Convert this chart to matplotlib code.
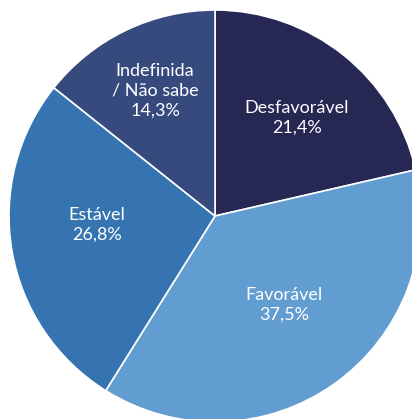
import matplotlib.pyplot as plt

# Distribuição das respostas
categorias = ['Desfavorável', 'Favorável', 'Estável', 'Indefinida\n/ Não sabe']
valores = [21.4, 37.5, 26.8, 14.3]
cores = ['#262853', '#619dd0', '#3574b0', '#364a7e']

# posição dos rótulos dentro de cada fatia (em unidades do raio)
pos_rotulos = [(0.398, 0.476), (0.335, -0.432), (-0.573, -0.043), (-0.291, 0.607)]

rotulos = [f"{c}\n{v:.1f}%".replace('.', ',') for c, v in zip(categorias, valores)]

fig = plt.figure(figsize=(4.12, 4.19), dpi=100)
ax = fig.add_axes([0, 0, 1, 1])

wedges, texts = ax.pie(
    valores,
    labels=rotulos,
    colors=cores,
    startangle=90,
    counterclock=False,
    radius=1.0,
    labeldistance=0.62,
    wedgeprops=dict(edgecolor='white', linewidth=1.2),
    textprops=dict(color='white', fontsize=13, family='Lato'),
)
for t, p in zip(texts, pos_rotulos):
    t.set_position(p)
    t.set_horizontalalignment('center')
    t.set_verticalalignment('center')
    t.set_linespacing(1.3)

# a pizza é cortada à direita e embaixo
r_px = 206
cx, cy = 215, 216
ax.set_xlim(-cx / r_px, (412 - cx) / r_px)
ax.set_ylim(-(419 - cy) / r_px, cy / r_px)
ax.set_aspect('auto')
ax.axis('off')

fig.savefig('out.png', dpi=100)
